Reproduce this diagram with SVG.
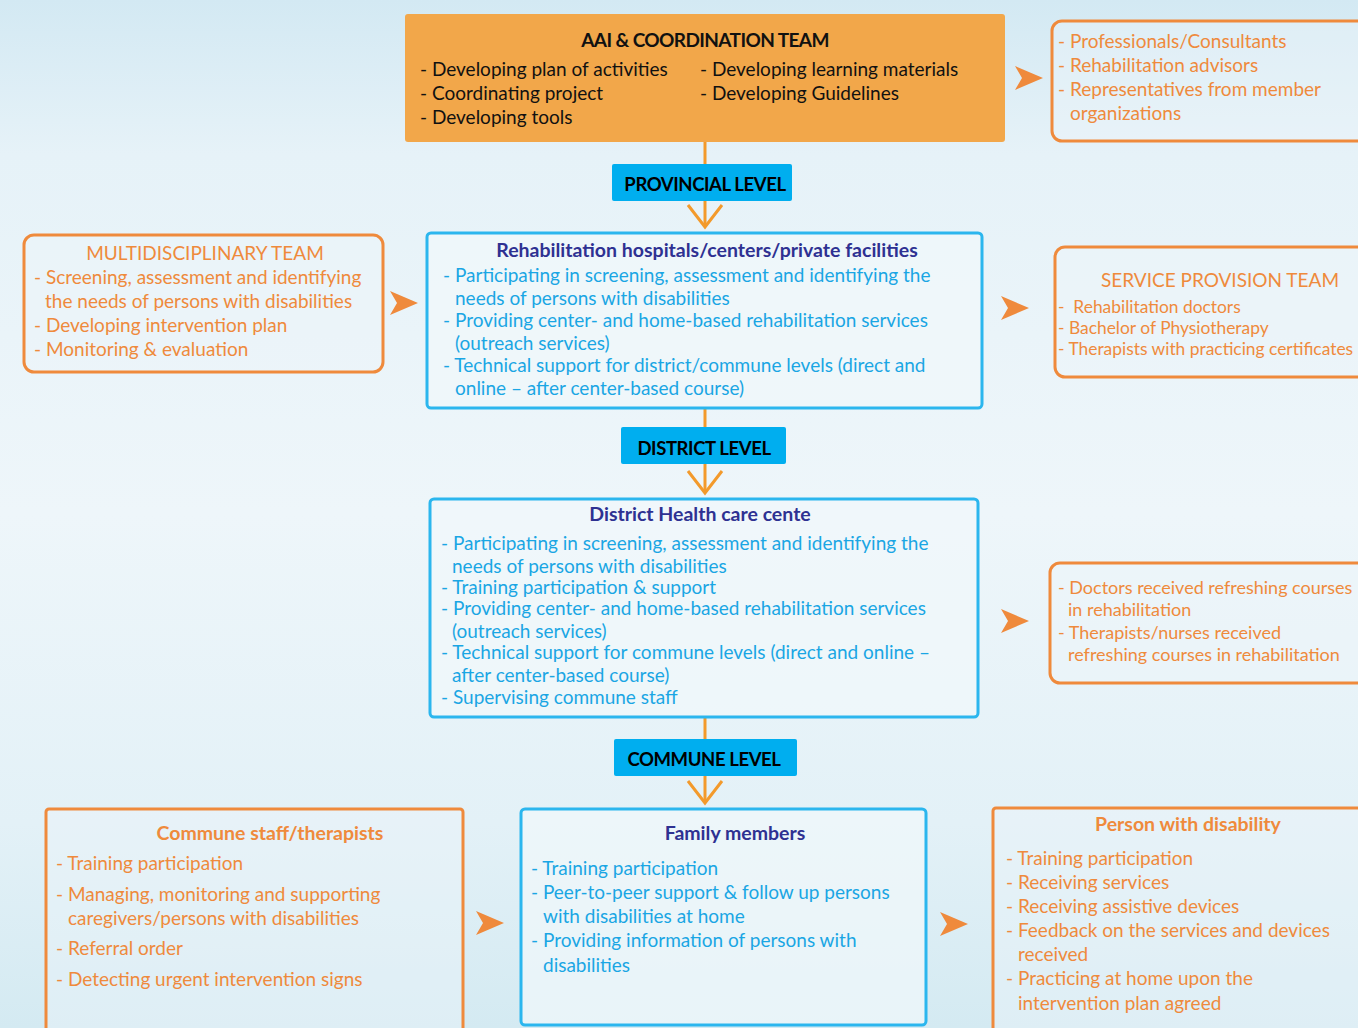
<svg xmlns="http://www.w3.org/2000/svg" width="1358" height="1028" viewBox="0 0 1358 1028">
<defs>
<linearGradient id="bg" x1="0" y1="0" x2="0" y2="1">
<stop offset="0" stop-color="#d3e9f3"/>
<stop offset="0.15" stop-color="#e6f2f8"/>
<stop offset="0.5" stop-color="#eef6fa"/>
<stop offset="0.8" stop-color="#e3f1f7"/>
<stop offset="1" stop-color="#d4eaf2"/>
</linearGradient>
<path id="ah" d="M0,-12 L28,0 L0,12 L7,0 Z"/>
</defs>
<style>
text{font-family:Lato,"Open Sans","Liberation Sans",sans-serif;font-size:19px}
.blk{fill:#111}
.cy{fill:#1aa6e4}
.or{fill:#ef8a3c}
.nv{fill:#2e3192;font-weight:bold;font-size:19.5px}
.ot{fill:#ef8a3c;font-weight:bold;font-size:19.5px}
.ttl{font-weight:bold;letter-spacing:-0.6px}
.lv{fill:#00aeef}
.lvt{fill:#000;font-weight:bold;font-size:18.5px;letter-spacing:-0.4px}
.bb{fill:#f1f8fb;fill-opacity:0.7;stroke:#2bb6ee;stroke-width:3}
.obx{fill:#eef6fa;fill-opacity:0.4;stroke:#ef8a3c;stroke-width:3}
.ln{stroke:#f39a2b;stroke-width:3;fill:none}
.ch{stroke:#f39a2b;stroke-width:3;fill:none}
.arr{fill:#ef8a3c}
.sm{font-size:18px}
.xs{font-size:17.4px}
</style>
<rect width="1358" height="1028" fill="url(#bg)"/>

<g id="connectors">
<line class="ln" x1="705" y1="142" x2="705" y2="227"/>
<polyline class="ch" points="688,205 705,227 722,205"/>
<line class="ln" x1="705" y1="408" x2="705" y2="493"/>
<polyline class="ch" points="688,471 705,493 722,471"/>
<line class="ln" x1="705" y1="717" x2="705" y2="803"/>
<polyline class="ch" points="688,781 705,803 722,781"/>
<use href="#ah" class="arr" x="1015" y="78"/>
<use href="#ah" class="arr" x="390" y="303"/>
<use href="#ah" class="arr" x="1001" y="308"/>
<use href="#ah" class="arr" x="1001" y="621"/>
<use href="#ah" class="arr" x="476" y="923"/>
<use href="#ah" class="arr" x="940" y="924"/>
</g>

<g id="aai">
<rect x="405" y="14" width="600" height="128" rx="3" fill="#f2a74a"/>
<text class="blk ttl" x="705" y="47" text-anchor="middle">AAI &amp; COORDINATION TEAM</text>
<text class="blk" x="420" y="76">- Developing plan of activities</text>
<text class="blk" x="420" y="100">- Coordinating project</text>
<text class="blk" x="420" y="124">- Developing tools</text>
<text class="blk" x="700" y="76">- Developing learning materials</text>
<text class="blk" x="700" y="100">- Developing Guidelines</text>
</g>

<g id="professionals">
<rect class="obx" x="1052" y="21" width="320" height="120" rx="10"/>
<text class="or" x="1058" y="48">- Professionals/Consultants</text>
<text class="or" x="1058" y="72">- Rehabilitation advisors</text>
<text class="or" x="1058" y="96">- Representatives from member</text>
<text class="or" x="1070" y="120">organizations</text>
</g>

<g id="provincial-level">
<rect class="lv" x="612" y="164" width="180" height="37" rx="2"/>
<text class="lvt" x="705" y="191" text-anchor="middle">PROVINCIAL LEVEL</text>
</g>

<g id="multidisciplinary">
<rect class="obx" x="24" y="235" width="359" height="137" rx="10"/>
<text class="or" x="205" y="260" text-anchor="middle">MULTIDISCIPLINARY TEAM</text>
<text class="or" x="34" y="284">- Screening, assessment and identifying</text>
<text class="or" x="45" y="308">the needs of persons with disabilities</text>
<text class="or" x="34" y="332">- Developing intervention plan</text>
<text class="or" x="34" y="356">- Monitoring &amp; evaluation</text>
</g>

<g id="rehab-hospitals">
<rect class="bb" x="427" y="233" width="555" height="175" rx="4"/>
<text class="nv" x="707" y="257" text-anchor="middle">Rehabilitation hospitals/centers/private facilities</text>
<text class="cy" x="443" y="282">- Participating in screening, assessment and identifying the</text>
<text class="cy" x="455" y="305">needs of persons with disabilities</text>
<text class="cy" x="443" y="327">- Providing center- and home-based rehabilitation services</text>
<text class="cy" x="455" y="350">(outreach services)</text>
<text class="cy" x="443" y="372">- Technical support for district/commune levels (direct and</text>
<text class="cy" x="455" y="395">online – after center-based course)</text>
</g>

<g id="service-provision">
<rect class="obx" x="1055" y="247" width="320" height="130" rx="10"/>
<text class="or" x="1220" y="287" text-anchor="middle">SERVICE PROVISION TEAM</text>
<text class="or xs" x="1058" y="313" xml:space="preserve">-  Rehabilitation doctors</text>
<text class="or xs" x="1058" y="334">- Bachelor of Physiotherapy</text>
<text class="or xs" x="1058" y="355">- Therapists with practicing certificates</text>
</g>

<g id="district-level">
<rect class="lv" x="621" y="427" width="165" height="37" rx="2"/>
<text class="lvt" x="704" y="455" text-anchor="middle">DISTRICT LEVEL</text>
</g>

<g id="district-health">
<rect class="bb" x="430" y="499" width="548" height="218" rx="4"/>
<text class="nv" x="700" y="521" text-anchor="middle">District Health care cente</text>
<text class="cy" x="441" y="550">- Participating in screening, assessment and identifying the</text>
<text class="cy" x="452" y="573">needs of persons with disabilities</text>
<text class="cy" x="441" y="594">- Training participation &amp; support</text>
<text class="cy" x="441" y="615">- Providing center- and home-based rehabilitation services</text>
<text class="cy" x="452" y="638">(outreach services)</text>
<text class="cy" x="441" y="659">- Technical support for commune levels (direct and online –</text>
<text class="cy" x="452" y="682">after center-based course)</text>
<text class="cy" x="441" y="704">- Supervising commune staff</text>
</g>

<g id="refreshing">
<rect class="obx" x="1050" y="563" width="320" height="120" rx="10"/>
<text class="or sm" x="1058" y="594">- Doctors received refreshing courses</text>
<text class="or sm" x="1068" y="616">in rehabilitation</text>
<text class="or sm" x="1058" y="639">- Therapists/nurses received</text>
<text class="or sm" x="1068" y="661">refreshing courses in rehabilitation</text>
</g>

<g id="commune-level">
<rect class="lv" x="614" y="739" width="183" height="37" rx="2"/>
<text class="lvt" x="704" y="766" text-anchor="middle">COMMUNE LEVEL</text>
</g>

<g id="commune-staff">
<rect class="obx" x="46" y="809" width="417" height="230" rx="3"/>
<text class="ot" x="270" y="840" text-anchor="middle">Commune staff/therapists</text>
<text class="or" x="56" y="870">- Training participation</text>
<text class="or" x="56" y="901">- Managing, monitoring and supporting</text>
<text class="or" x="68" y="925">caregivers/persons with disabilities</text>
<text class="or" x="56" y="955">- Referral order</text>
<text class="or" x="56" y="986">- Detecting urgent intervention signs</text>
</g>

<g id="family-members">
<rect class="bb" x="521" y="809" width="405" height="216" rx="4"/>
<text class="nv" x="735" y="840" text-anchor="middle">Family members</text>
<text class="cy" x="531" y="875">- Training participation</text>
<text class="cy" x="531" y="899">- Peer-to-peer support &amp; follow up persons</text>
<text class="cy" x="543" y="923">with disabilities at home</text>
<text class="cy" x="531" y="947">- Providing information of persons with</text>
<text class="cy" x="543" y="972">disabilities</text>
</g>

<g id="person-disability">
<rect class="obx" x="993" y="808" width="380" height="230" rx="3"/>
<text class="ot" x="1188" y="831" text-anchor="middle">Person with disability</text>
<text class="or" x="1006" y="865">- Training participation</text>
<text class="or" x="1006" y="889">- Receiving services</text>
<text class="or" x="1006" y="913">- Receiving assistive devices</text>
<text class="or" x="1006" y="937">- Feedback on the services and devices</text>
<text class="or" x="1018" y="961">received</text>
<text class="or" x="1006" y="985">- Practicing at home upon the</text>
<text class="or" x="1018" y="1010">intervention plan agreed</text>
</g>
</svg>
